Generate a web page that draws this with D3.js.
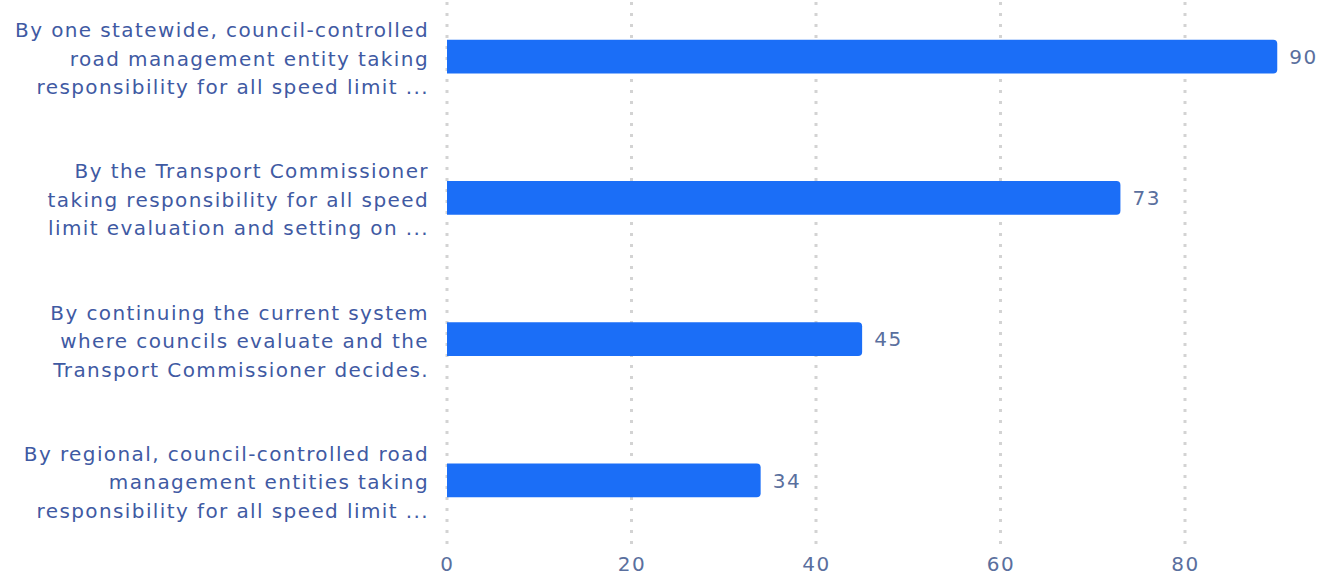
<!DOCTYPE html>
<html>
<head>
<meta charset="utf-8">
<script src="https://cdn.jsdelivr.net/npm/d3@7"></script>
<style>
  html, body { margin: 0; padding: 0; background: #ffffff; }
  svg { display: block; }
  text { font-family: "DejaVu Sans", "Noto Sans", sans-serif; }
</style>
</head>
<body>
<svg id="chart" width="1327" height="579"></svg>
<script>
// Survey options (wrapped label lines) and their counts
const categories = [
  ["By one statewide, council-controlled", "road management entity taking", "responsibility for all speed limit ..."],
  ["By the Transport Commissioner", "taking responsibility for all speed", "limit evaluation and setting on ..."],
  ["By continuing the current system", "where councils evaluate and the", "Transport Commissioner decides."],
  ["By regional, council-controlled road", "management entities taking", "responsibility for all speed limit ..."]
];
const values = [90, 73, 45, 34];
const tickValues = [0, 20, 40, 60, 80];

const svg = d3.select("#chart");
const plotLeft = 447, plotTop = -14, plotBottom = 551;

const x = d3.scaleLinear().domain([0, 100]).range([plotLeft, plotLeft + 922.5]);
const y = d3.scaleBand().domain(d3.range(values.length)).range([plotTop, plotBottom]).paddingInner(0.76).paddingOuter(0.38);

// Dotted vertical grid lines
svg.append("g").selectAll("line").data(tickValues).join("line")
  .attr("x1", d => x(d)).attr("x2", d => x(d))
  .attr("y1", 2).attr("y2", 545)
  .attr("stroke", "#d3d3d3").attr("stroke-width", 3)
  .attr("stroke-dasharray", "3,8");

// X axis tick labels
const xAxis = d3.axisBottom(x).tickValues(tickValues).tickSize(0).tickPadding(0);
const gx = svg.append("g").attr("transform", "translate(0, 557)").call(xAxis);
gx.select(".domain").remove();
gx.selectAll("text")
  .attr("dy", "0.71em")
  .attr("fill", "#5a6f9e")
  .style("font-family", "'DejaVu Sans', sans-serif")
  .style("font-size", "20px")
  .style("letter-spacing", "1.6px");

// Bars with rounded right end
const r = 4;
svg.append("g").selectAll("path").data(values).join("path")
  .attr("d", (d, i) => {
    const x0 = x(0), x1 = x(d), y0 = y(i), h = y.bandwidth();
    return `M${x0},${y0} H${x1 - r} Q${x1},${y0} ${x1},${y0 + r} V${y0 + h - r} Q${x1},${y0 + h} ${x1 - r},${y0 + h} H${x0} Z`;
  })
  .attr("fill", "#1b6ef7");

// Value labels
svg.append("g").selectAll("text").data(values).join("text")
  .attr("x", d => x(d) + 12)
  .attr("y", (d, i) => y(i) + y.bandwidth() / 2)
  .attr("dy", "0.36em")
  .attr("fill", "#5a6f9e")
  .style("font-size", "20px")
  .style("letter-spacing", "1.6px")
  .text(d => d);

// Category labels
const lineH = 28.5;
const lab = svg.append("g").selectAll("text").data(categories).join("text")
  .attr("text-anchor", "end")
  .attr("fill", "#3f5aa3")
  .style("font-size", "20px")
  .style("letter-spacing", "1.4px")
  .attr("x", 429)
  .attr("y", (d, i) => y(i) + y.bandwidth() / 2);
lab.selectAll("tspan").data(d => d).join("tspan")
  .attr("x", 429)
  .attr("dy", (d, j) => j === 0 ? `${-lineH + 9}` : `${lineH}`)
  .text(d => d);
</script>
</body>
</html>
